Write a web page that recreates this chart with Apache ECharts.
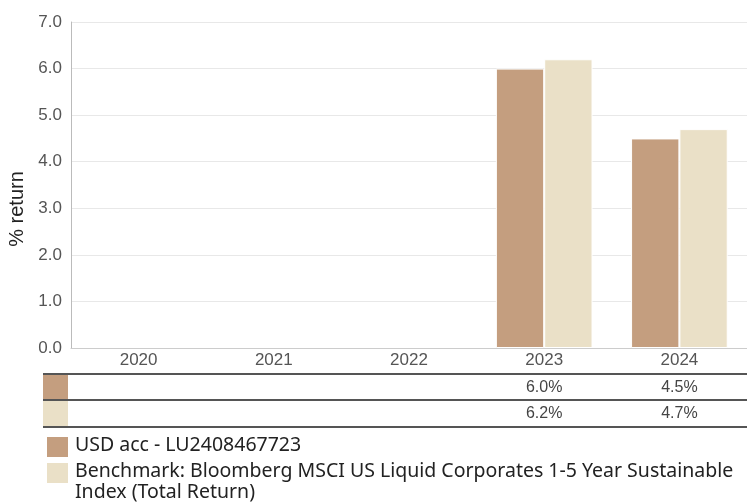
<!DOCTYPE html>
<html>
<head>
<meta charset="utf-8">
<script src="https://cdn.jsdelivr.net/npm/echarts@6/dist/echarts.min.js"></script>
<style>
html,body{margin:0;padding:0;background:#fff;}
#chart{width:747px;height:504px;}
</style>
</head>
<body>
<div id="chart"></div>
<script>
var categories = ['2020', '2021', '2022', '2023', '2024'];
var seriesNames = ['USD acc - LU2408467723', 'Benchmark: Bloomberg MSCI US Liquid Corporates 1-5 Year Sustainable Index (Total Return)'];
var fundValues = [null, null, null, 6.0, 4.5];
var benchValues = [null, null, null, 6.2, 4.7];
var yTicks = [0, 1, 2, 3, 4, 5, 6, 7];
var colors = ['#C49E7F', '#EAE0C7'];

function fmtPct(v) { return v == null ? '' : v.toFixed(1) + '%'; }

var chart = echarts.init(document.getElementById('chart'));
var FONT = '"Liberation Sans", Arial, sans-serif';
var LEG_FONT = '"Noto Sans", sans-serif';

var tableRowsY = [374, 400, 427];
var graphics = [];
tableRowsY.forEach(function (y) {
  graphics.push({ type: 'line', shape: { x1: 43, y1: y, x2: 747, y2: y }, style: { stroke: '#555', lineWidth: 2 }, z: 10 });
});
graphics.push({ type: 'rect', shape: { x: 43, y: 375, width: 25, height: 24 }, style: { fill: colors[0] } });
graphics.push({ type: 'rect', shape: { x: 43, y: 401, width: 25, height: 25 }, style: { fill: colors[1] } });
graphics.push({ type: 'text', x: 17, y: 209, rotation: Math.PI / 2,
  style: { text: '% return', font: '20px ' + FONT, fill: '#222', align: 'center', verticalAlign: 'middle' } });
var legTop = [437, 463];
seriesNames.forEach(function (n, i) {
  graphics.push({ type: 'rect', shape: { x: 47, y: legTop[i], width: 21, height: 20 }, style: { fill: colors[i] } });
  graphics.push({ type: 'text', x: 75, y: legTop[i] - 2,
    style: { text: n, font: '19.5px ' + LEG_FONT, fill: '#222', width: 668, overflow: 'break', lineHeight: 21, verticalAlign: 'top' } });
});

var option = {
  animation: false,
  grid: { left: 71, top: 22, width: 678, height: 326, containLabel: false },
  xAxis: [
    { type: 'category', data: categories, gridIndex: 0, position: 'bottom',
      axisLine: { show: true, lineStyle: { color: '#ccc' } }, axisTick: { show: false },
      axisLabel: { color: '#555', fontSize: 17, fontFamily: FONT, margin: 4 } },
    { type: 'category', data: categories, gridIndex: 0, position: 'bottom', offset: 27,
      axisLine: { show: false }, axisTick: { show: false },
      axisLabel: { color: '#444', fontSize: 16, fontFamily: FONT, margin: 5,
        formatter: function (v, idx) { return fmtPct(fundValues[idx]); } } },
    { type: 'category', data: categories, gridIndex: 0, position: 'bottom', offset: 53,
      axisLine: { show: false }, axisTick: { show: false },
      axisLabel: { color: '#444', fontSize: 16, fontFamily: FONT, margin: 5,
        formatter: function (v, idx) { return fmtPct(benchValues[idx]); } } }
  ],
  yAxis: {
    type: 'value', min: yTicks[0], max: yTicks[yTicks.length - 1], interval: 1,
    axisLine: { show: true, lineStyle: { color: '#bbb' } }, axisTick: { show: false },
    splitLine: { lineStyle: { color: '#e8e8e8' } },
    axisLabel: { color: '#555', fontSize: 17, fontFamily: FONT, margin: 9,
      formatter: function (v) { return v.toFixed(1); } }
  },
  series: [
    { name: seriesNames[0], type: 'bar', data: fundValues, xAxisIndex: 0, barGap: '0%', barCategoryGap: '28.5%',
      itemStyle: { color: colors[0], borderColor: '#fff', borderWidth: 1 } },
    { name: seriesNames[1], type: 'bar', data: benchValues, xAxisIndex: 0,
      itemStyle: { color: colors[1], borderColor: '#fff', borderWidth: 1 } }
  ],
  graphic: graphics
};
chart.setOption(option);
</script>
</body>
</html>
